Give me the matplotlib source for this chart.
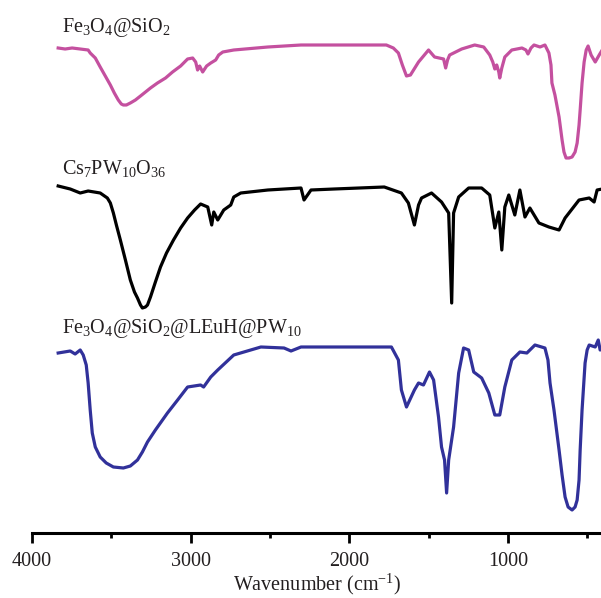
import matplotlib
matplotlib.use("Agg")
import matplotlib.pyplot as plt
from matplotlib.ticker import FixedLocator

plt.rcParams["font.family"] = ["Liberation Serif", "DejaVu Serif"]
plt.rcParams["mathtext.fontset"] = "custom"
plt.rcParams["mathtext.rm"] = "Liberation Serif"
plt.rcParams["mathtext.it"] = "Liberation Serif:italic"
plt.rcParams["mathtext.bf"] = "Liberation Serif:bold"

# FT-IR spectra (wavenumber in cm^-1, stacked transmittance in a.u.)
wn_fesio = [3835, 3791, 3747, 3696, 3646, 3633, 3601, 3570, 3538, 3506, 3481, 3456,
            3437, 3424, 3405, 3380, 3348, 3316, 3253, 3209, 3158, 3114, 3063, 3019,
            2987, 2968, 2956, 2943, 2924, 2899, 2873, 2842, 2823, 2797, 2728, 2513,
            2304, 1766, 1722, 1690, 1665, 1639, 1614, 1563, 1500, 1462, 1405, 1392,
            1380, 1367, 1291, 1209, 1152, 1114, 1095, 1082, 1070, 1057, 1051, 1038,
            1019, 975, 911, 886, 873, 854, 835, 797, 766, 741, 728, 722, 703, 677,
            658, 646, 633, 614, 595, 576, 563, 551, 544, 532, 519, 506, 494, 475,
            449, 424, 405]
t_fesio = [48.5, 48.4, 48.5, 48.4, 48.3, 48.0, 47.5, 46.6, 45.7, 44.8, 44.0, 43.3,
           42.9, 42.8, 42.8, 43.0, 43.3, 43.7, 44.5, 45.0, 45.5, 46.1, 46.7, 47.4,
           47.5, 47.1, 46.3, 46.7, 46.1, 46.7, 47.0, 47.3, 47.8, 48.1, 48.3, 48.6,
           48.8, 48.8, 48.5, 48.0, 46.8, 45.7, 45.8, 47.1, 48.3, 47.6, 47.4, 46.5,
           47.3, 47.8, 48.4, 48.8, 48.6, 47.8, 47.1, 46.4, 46.8, 46.1, 45.5, 46.5,
           47.6, 48.3, 48.5, 48.3, 47.9, 48.5, 48.8, 48.6, 48.8, 48.0, 46.8, 45.0,
           43.8, 41.6, 39.3, 38.1, 37.5, 37.5, 37.6, 38.1, 39.0, 40.8, 42.3, 45.0,
           47.1, 48.3, 48.7, 47.8, 47.1, 47.8, 48.3]

wn_cspw = [3835, 3759, 3696, 3646, 3570, 3525, 3506, 3487, 3468, 3443, 3411, 3380,
           3354, 3335, 3316, 3304, 3285, 3272, 3253, 3222, 3190, 3152, 3108, 3063,
           3019, 2975, 2937, 2892, 2867, 2854, 2829, 2791, 2747, 2728, 2684, 2513,
           2304, 2285, 2241, 2095, 1779, 1671, 1627, 1589, 1563, 1544, 1481, 1418,
           1373, 1354, 1342, 1310, 1247, 1165, 1114, 1082, 1057, 1038, 1019, 994,
           956, 924, 892, 861, 804, 741, 677, 639, 551, 487, 456, 437, 405]
t_cspw = [34.7, 34.4, 34.0, 34.2, 34.0, 33.5, 33.0, 32.0, 30.8, 29.3, 27.3, 25.3,
          24.1, 23.5, 22.8, 22.5, 22.6, 22.8, 23.6, 25.1, 26.6, 28.0, 29.3, 30.5,
          31.5, 32.3, 32.9, 32.6, 30.8, 32.1, 31.3, 32.3, 32.8, 33.6, 34.0, 34.3,
          34.5, 33.3, 34.3, 34.4, 34.6, 34.0, 33.0, 30.8, 32.8, 33.5, 34.0, 33.1,
          32.0, 23.0, 32.0, 33.6, 34.5, 34.5, 33.8, 30.5, 32.1, 28.3, 32.6, 33.8,
          31.8, 34.3, 31.6, 32.5, 31.0, 30.6, 30.3, 31.5, 33.3, 33.5, 33.1, 34.3, 34.4]

wn_hybrid = [3835, 3759, 3728, 3696, 3677, 3658, 3646, 3633, 3620, 3601, 3570, 3532,
             3487, 3424, 3380, 3335, 3304, 3272, 3222, 3146, 3082, 3019, 2937, 2918,
             2873, 2829, 2728, 2557, 2411, 2367, 2304, 1734, 1690, 1671, 1639, 1589,
             1563, 1532, 1494, 1468, 1437, 1418, 1399, 1386, 1373, 1342, 1310, 1279,
             1247, 1215, 1165, 1120, 1082, 1051, 1019, 975, 924, 880, 829, 766, 747,
             734, 709, 677, 658, 639, 620, 595, 576, 563, 551, 544, 532, 513, 500,
             487, 449, 430, 418, 405]
t_hybrid = [18.0, 18.2, 17.9, 18.3, 17.8, 16.8, 15.0, 12.3, 10.0, 8.6, 7.6, 7.0,
            6.6, 6.5, 6.7, 7.3, 8.1, 9.1, 10.3, 12.0, 13.3, 14.6, 14.8, 14.6,
            15.6, 16.3, 17.8, 18.6, 18.5, 18.2, 18.6, 18.6, 17.3, 14.3, 12.6, 14.3,
            15.0, 14.8, 16.1, 15.3, 11.6, 8.6, 7.3, 4.0, 7.3, 10.6, 16.0, 18.5,
            18.3, 16.1, 15.5, 14.0, 11.8, 11.8, 14.6, 17.3, 18.1, 18.0, 18.8, 18.5, 17.3,
            15.0, 12.3, 8.3, 5.8, 3.6, 2.6, 2.3, 2.6, 3.3, 5.3, 8.3, 12.3, 17.0, 18.3,
            18.8, 18.6, 19.3, 18.3, 18.6]

names = [r"Fe$_3$O$_4$@SiO$_2$",
         r"Cs$_7$PW$_{10}$O$_{36}$",
         r"Fe$_3$O$_4$@SiO$_2$@LEuH@PW$_{10}$"]
colors = ["#c4509f", "#000000", "#31319a"]
label_y = [50.1, 35.9, 20.0]
label_x = 3810

major_ticks = [4000, 3000, 2000, 1000]
minor_ticks = [3500, 2500, 1500, 500]

fig = plt.figure(figsize=(6.01, 5.98), dpi=100)
ax = fig.add_axes([32 / 601, 65 / 598, 571 / 601, 533 / 598])

series = [(wn_fesio, t_fesio), (wn_cspw, t_cspw), (wn_hybrid, t_hybrid)]
for (x, y), c in zip(series, colors):
    ax.plot(x, y, color=c, lw=2.3, solid_joinstyle="round", clip_on=False)

for name, ly in zip(names, label_y):
    ax.text(label_x, ly, name, fontsize=14.5, color="#231f20", va="baseline", ha="left")

ax.set_xlim(4000, 400)
ax.set_ylim(0, 53.3)

for s in ["left", "right", "top"]:
    ax.spines[s].set_visible(False)
ax.spines["bottom"].set_linewidth(2.2)
ax.spines["bottom"].set_bounds(4000, 400)

ax.xaxis.set_major_locator(FixedLocator(major_ticks))
ax.xaxis.set_minor_locator(FixedLocator(minor_ticks))
ax.set_xticklabels([str(t) for t in major_ticks])
ax.tick_params(axis="x", which="major", direction="out", length=7.5, width=2.0,
               labelsize=14.5, pad=6, colors="#000000", labelcolor="#231f20")
ax.tick_params(axis="x", which="minor", direction="out", length=3.8, width=2.0)
ax.set_yticks([])
ax.set_xlabel("Wavenumber (cm$^{-1}$)", fontsize=14.5, color="#231f20", labelpad=1)

fig.savefig("out.png", dpi=100)
